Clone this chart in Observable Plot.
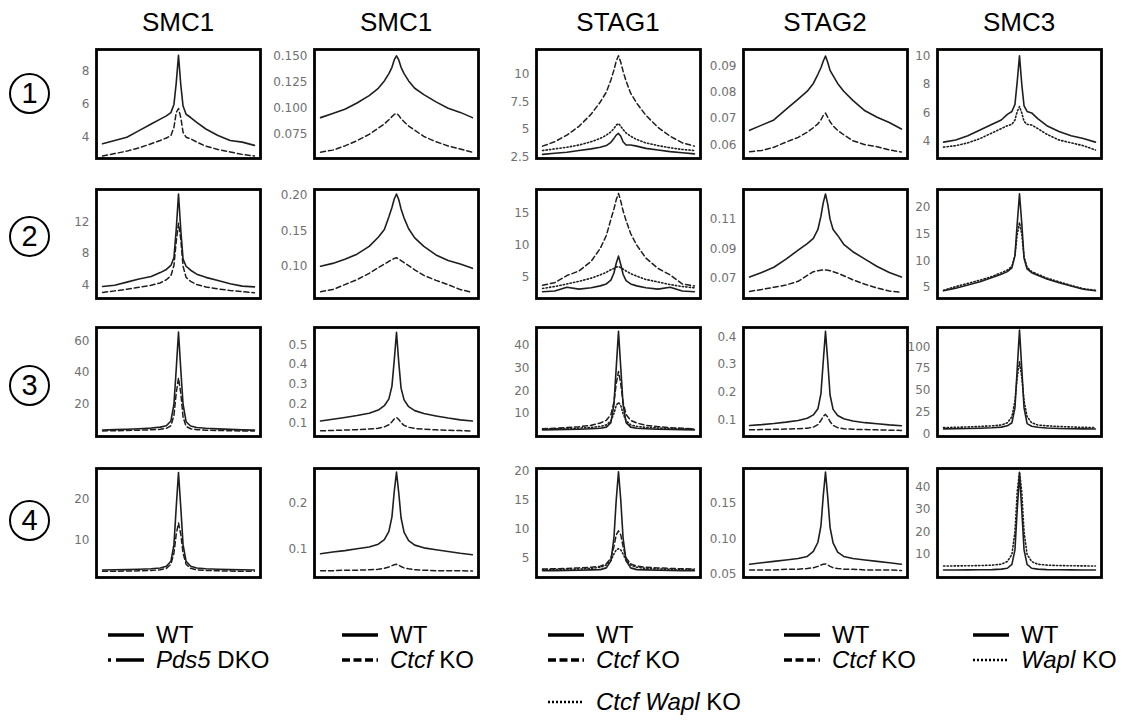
<!DOCTYPE html>
<html><head><meta charset="utf-8">
<script src="https://cdn.jsdelivr.net/npm/d3@7"></script>
<script src="https://cdn.jsdelivr.net/npm/@observablehq/plot@0.6"></script>
<style>
body{margin:0;background:#fff}
#fig{position:relative;width:1130px;height:722px;overflow:hidden;font-family:"Liberation Sans",Arial,Helvetica,sans-serif;color:#000}
.abs{position:absolute}
.title{font-size:26px;text-align:center;width:160px;line-height:30px}
.circ{width:37px;height:37px;border:2px solid #000;border-radius:50%;text-align:center;line-height:37px;font-size:29px;box-sizing:content-box}
.leg{font-size:24px;line-height:28px;white-space:nowrap;display:flex;align-items:center}
.leg svg{margin-right:12px}
</style></head>
<body><div id="fig"></div>
<script>
// ---------- data ----------
const X = [-50,-42,-34,-26,-18,-12,-8,-5,-3,-1.5,0,1.5,3,5,8,12,18,26,34,42,50];
const columns = ["SMC1","SMC1","STAG1","STAG2","SMC3"];
const rowLabels = ["1","2","3","4"];

// Row 1
const p11_wt   = [3.6,3.8,4.0,4.4,4.8,5.1,5.3,5.5,6.0,7.3,9.0,7.2,5.9,5.4,5.2,4.9,4.5,4.1,3.8,3.7,3.5];
const p11_pds5 = [2.85,3.0,3.15,3.35,3.6,3.8,3.95,4.1,4.6,5.5,5.75,5.2,4.3,4.0,3.9,3.7,3.45,3.25,3.1,2.95,2.85];
const p12_wt   = [0.091,0.095,0.099,0.105,0.112,0.119,0.126,0.133,0.139,0.146,0.150,0.146,0.139,0.133,0.126,0.119,0.113,0.106,0.100,0.096,0.091];
const p12_ctcf = [0.058,0.060,0.064,0.069,0.075,0.081,0.085,0.089,0.092,0.094,0.095,0.093,0.090,0.087,0.083,0.079,0.073,0.068,0.064,0.061,0.058];
const p13_wt   = [2.75,2.85,2.95,3.1,3.25,3.4,3.55,3.85,4.2,4.5,4.65,4.4,3.9,3.6,3.6,3.5,3.3,3.15,3.0,2.9,2.8];
const p13_ctcf = [3.5,3.9,4.5,5.3,6.4,7.5,8.4,9.5,10.4,11.2,11.7,11.1,10.3,9.4,8.3,7.4,6.3,5.2,4.4,3.8,3.5];
const p13_cw   = [3.1,3.25,3.4,3.6,3.9,4.2,4.5,4.8,5.1,5.4,5.55,5.3,5.0,4.7,4.4,4.1,3.8,3.55,3.35,3.2,3.1];
const p14_wt   = [0.0655,0.0675,0.0695,0.0735,0.0775,0.0805,0.0835,0.087,0.0895,0.092,0.094,0.0915,0.0885,0.0865,0.0835,0.0805,0.077,0.073,0.0705,0.0685,0.066];
const p14_ctcf = [0.0573,0.0578,0.059,0.061,0.0628,0.0648,0.0665,0.068,0.0695,0.0712,0.0721,0.0705,0.0688,0.0672,0.0655,0.0638,0.0615,0.060,0.0592,0.058,0.0572];
const p15_wt   = [3.95,4.1,4.4,4.8,5.2,5.5,5.9,6.1,6.6,8.2,10.0,8.0,6.5,6.1,6.0,5.6,5.1,4.7,4.4,4.2,3.95];
const p15_wapl = [3.6,3.7,3.9,4.2,4.6,4.9,5.1,5.2,5.5,6.1,6.45,6.0,5.4,5.2,5.15,4.9,4.5,4.1,3.9,3.7,3.4];
// Row 2
const p21_wt   = [3.85,4.0,4.4,4.8,5.1,5.6,6.0,6.5,7.5,11.0,15.5,11.0,7.3,6.4,5.9,5.4,5.0,4.6,4.2,3.9,3.8];
const p21_pds5 = [3.1,3.3,3.5,3.75,4.0,4.3,4.7,5.2,6.5,9.5,11.8,9.8,6.4,5.0,4.5,4.1,3.8,3.55,3.35,3.2,3.05];
const p22_wt   = [0.100,0.104,0.110,0.117,0.128,0.141,0.152,0.170,0.183,0.195,0.202,0.194,0.181,0.168,0.153,0.140,0.128,0.116,0.108,0.103,0.097];
const p22_ctcf = [0.064,0.067,0.074,0.081,0.090,0.098,0.103,0.107,0.109,0.111,0.112,0.110,0.108,0.105,0.101,0.095,0.087,0.080,0.074,0.067,0.063];
const p23_wt   = [2.8,2.9,3.5,3.2,3.4,3.7,4.0,4.6,5.7,7.2,8.3,7.0,5.5,4.5,4.0,3.7,3.4,3.2,3.5,2.9,2.8];
const p23_ctcf = [3.8,4.2,5.3,6.0,7.5,9.5,11.5,14.0,15.6,17.0,18.0,16.8,15.3,13.8,11.8,10.0,8.0,6.4,5.4,4.0,3.7];
const p23_cw   = [3.3,3.6,4.0,4.4,4.9,5.4,5.8,6.2,6.4,6.6,6.7,6.5,6.3,6.0,5.6,5.2,4.7,4.3,3.9,3.6,3.4];
const p24_wt   = [0.071,0.074,0.0775,0.083,0.089,0.0935,0.097,0.103,0.112,0.121,0.127,0.120,0.110,0.103,0.099,0.093,0.088,0.083,0.078,0.074,0.071];
const p24_ctcf = [0.0612,0.0625,0.064,0.0655,0.068,0.072,0.0745,0.0752,0.0755,0.0757,0.0757,0.0755,0.0752,0.0745,0.0735,0.0718,0.069,0.066,0.0635,0.0615,0.0605];
const p25_wt   = [4.4,4.9,5.5,6.1,6.9,7.5,8.0,8.7,11.0,17.0,22.6,17.0,10.5,8.5,7.8,7.3,6.6,5.9,5.3,4.7,4.4];
const p25_wapl = [4.5,5.2,5.8,6.4,7.1,7.8,8.3,9.0,11.0,15.0,17.2,15.0,10.8,8.8,8.0,7.5,6.8,6.1,5.4,4.8,4.5];
// Row 3
const p31_wt   = [3.8,4.0,4.3,4.6,5.0,5.6,6.5,9.5,20,42,65.4,42,20,9.0,6.3,5.4,4.9,4.5,4.2,3.9,3.7];
const p31_pds5 = [3.2,3.3,3.5,3.7,3.9,4.2,4.8,6.5,13,27,36.5,27,12,6.0,4.6,4.0,3.7,3.5,3.3,3.2,3.1];
const p32_wt   = [0.112,0.121,0.130,0.140,0.152,0.168,0.190,0.225,0.290,0.420,0.565,0.410,0.280,0.220,0.185,0.165,0.150,0.138,0.127,0.118,0.112];
const p32_ctcf = [0.062,0.064,0.066,0.068,0.071,0.075,0.082,0.093,0.108,0.122,0.130,0.120,0.103,0.090,0.080,0.074,0.070,0.067,0.065,0.063,0.061];
const p33_wt   = [2.8,2.9,3.0,3.1,3.3,3.5,4.0,6.0,14,30,46,30,14,6.0,4.0,3.5,3.3,3.1,3.0,2.9,2.8];
const p33_ctcf = [3.3,3.5,3.8,4.2,4.8,5.8,7.0,9.5,15,23,28.4,23,15,9.5,7.0,5.8,4.8,4.2,3.8,3.5,3.3];
const p33_cw   = [3.2,3.3,3.4,3.6,3.9,4.3,5.0,6.8,10.0,13.5,14.9,13.5,10.0,6.8,5.0,4.3,3.9,3.6,3.4,3.3,3.2];
const p34_wt   = [0.080,0.083,0.087,0.092,0.098,0.106,0.118,0.140,0.195,0.310,0.420,0.310,0.190,0.138,0.116,0.104,0.096,0.090,0.086,0.082,0.079];
const p34_ctcf = [0.064,0.065,0.066,0.067,0.068,0.070,0.074,0.083,0.098,0.113,0.120,0.110,0.094,0.080,0.072,0.068,0.066,0.065,0.064,0.063,0.062];
const p35_wt   = [6,6.2,6.4,6.8,7.3,8.0,9.5,13,30,75,119,75,30,12,9,7.8,7.0,6.5,6.2,6.0,5.8];
const p35_wapl = [7.5,7.8,8.2,8.8,9.5,10.5,13,20,38,65,83,65,38,20,13,10.5,9.5,8.8,8.2,7.8,7.5];
// Row 4
const p41_wt   = [2.9,2.95,3.0,3.1,3.2,3.4,3.8,5.0,9.0,18,26.3,18,9.0,5.0,3.8,3.4,3.2,3.1,3.0,2.95,2.9];
const p41_pds5 = [2.6,2.6,2.65,2.7,2.8,2.95,3.3,4.3,7.0,11.5,14.2,11.5,7.0,4.3,3.3,2.95,2.8,2.7,2.65,2.6,2.6];
const p42_wt   = [0.089,0.093,0.096,0.100,0.104,0.110,0.120,0.138,0.170,0.225,0.268,0.222,0.168,0.136,0.118,0.108,0.102,0.098,0.094,0.090,0.087];
const p42_ctcf = [0.052,0.052,0.053,0.053,0.054,0.055,0.057,0.060,0.063,0.065,0.066,0.064,0.061,0.058,0.056,0.054,0.053,0.052,0.052,0.052,0.051];
const p43_wt   = [2.8,2.8,2.85,2.9,2.95,3.0,3.3,4.5,8.5,15,19.9,15,8.5,4.5,3.3,3.0,2.95,2.9,2.85,2.8,2.8];
const p43_ctcf = [3.1,3.15,3.2,3.3,3.4,3.6,4.0,5.0,7.0,9.0,9.7,9.0,7.0,5.0,4.0,3.6,3.4,3.3,3.2,3.15,3.1];
const p43_cw   = [3.0,3.0,3.05,3.1,3.2,3.4,3.8,4.6,5.7,6.4,6.6,6.4,5.7,4.6,3.8,3.4,3.2,3.1,3.05,3.0,3.0];
const p44_wt   = [0.064,0.066,0.068,0.070,0.072,0.075,0.082,0.095,0.118,0.160,0.194,0.158,0.116,0.094,0.081,0.075,0.072,0.070,0.068,0.066,0.064];
const p44_ctcf = [0.056,0.056,0.056,0.057,0.057,0.058,0.059,0.061,0.063,0.064,0.0645,0.063,0.061,0.059,0.058,0.057,0.057,0.056,0.056,0.056,0.055];
const p45_wt   = [3.0,3.0,3.05,3.1,3.2,3.4,3.8,5.5,12,30,46,30,12,5.5,3.8,3.4,3.2,3.1,3.05,3.0,3.0];
const p45_wapl = [4.8,4.85,4.9,5.0,5.2,5.6,6.8,10,20,38,47,38,20,10,6.8,5.6,5.2,5.0,4.9,4.85,4.8];

// tick values and labels
const t11 = [4,6,8],                 l11 = ["4","6","8"];
const t12 = [0.075,0.1,0.125,0.15],  l12 = ["0.075","0.100","0.125","0.150"];
const t13 = [2.5,5,7.5,10],          l13 = ["2.5","5","7.5","10"];
const t14 = [0.06,0.07,0.08,0.09],   l14 = ["0.06","0.07","0.08","0.09"];
const t15 = [4,6,8,10],              l15 = ["4","6","8","10"];
const t21 = [4,8,12],                l21 = ["4","8","12"];
const t22 = [0.1,0.15,0.2],          l22 = ["0.10","0.15","0.20"];
const t23 = [5,10,15],               l23 = ["5","10","15"];
const t24 = [0.07,0.09,0.11],        l24 = ["0.07","0.09","0.11"];
const t25 = [5,10,15,20],            l25 = ["5","10","15","20"];
const t31 = [20,40,60],              l31 = ["20","40","60"];
const t32 = [0.1,0.2,0.3,0.4,0.5],   l32 = ["0.1","0.2","0.3","0.4","0.5"];
const t33 = [10,20,30,40],           l33 = ["10","20","30","40"];
const t34 = [0.1,0.2,0.3,0.4],       l34 = ["0.1","0.2","0.3","0.4"];
const t35 = [0,25,50,75,100],        l35 = ["0","25","50","75","100"];
const t41 = [10,20],                 l41 = ["10","20"];
const t42 = [0.1,0.2],               l42 = ["0.1","0.2"];
const t43 = [5,10,15,20],            l43 = ["5","10","15","20"];
const t44 = [0.05,0.1,0.15],         l44 = ["0.05","0.10","0.15"];
const t45 = [10,20,30,40],           l45 = ["10","20","30","40"];

// legend entries per column
const legendCols = [
  [["WT","solid"],["<i>Pds5</i> DKO","dashdot"]],
  [["WT","solid"],["<i>Ctcf</i> KO","dash"]],
  [["WT","solid"],["<i>Ctcf</i> KO","dash"],["<i>Ctcf Wapl</i> KO","dot"]],
  [["WT","solid"],["<i>Ctcf</i> KO","dash"]],
  [["WT","solid"],["<i>Wapl</i> KO","dot"]]
];

// ---------- layout ----------
const colLeft = [96, 314, 536, 743, 937];
const boxW = 164;
const rowTop = [49, 189, 327, 468];
const boxH = 109;
const circleY = [93, 236, 385, 520];
const ML = 60, MR = 3, MT = 3, MB = 3;

const panels = [
  [0,0,[2.7,9.35],t11,l11,[[p11_wt,"solid"],[p11_pds5,"dash"]]],
  [0,1,[0.052,0.156],t12,l12,[[p12_wt,"solid"],[p12_ctcf,"dash"]]],
  [0,2,[2.38,12.26],t13,l13,[[p13_wt,"solid"],[p13_ctcf,"dash"],[p13_cw,"dot"]]],
  [0,3,[0.0547,0.0965],t14,l14,[[p14_wt,"solid"],[p14_ctcf,"dash"]]],
  [0,4,[2.8,10.45],t15,l15,[[p15_wt,"solid"],[p15_wapl,"dot"]]],
  [1,0,[2.34,16.06],t21,l21,[[p21_wt,"solid"],[p21_pds5,"dash"]]],
  [1,1,[0.0544,0.2084],t22,l22,[[p22_wt,"solid"],[p22_ctcf,"dash"]]],
  [1,2,[1.75,18.6],t23,l23,[[p23_wt,"solid"],[p23_ctcf,"dash"],[p23_cw,"dot"]]],
  [1,3,[0.0564,0.130],t24,l24,[[p24_wt,"solid"],[p24_ctcf,"dash"]]],
  [1,4,[2.96,23.4],t25,l25,[[p25_wt,"solid"],[p25_wapl,"dot"]]],
  [2,0,[-0.3,68.3],t31,l31,[[p31_wt,"solid"],[p31_pds5,"dash"]]],
  [2,1,[0.033,0.589],t32,l32,[[p32_wt,"solid"],[p32_ctcf,"dash"]]],
  [2,2,[-0.1,47.7],t33,l33,[[p33_wt,"solid"],[p33_ctcf,"dash"],[p33_cw,"dot"]]],
  [2,3,[0.040,0.434],t34,l34,[[p34_wt,"solid"],[p34_ctcf,"dash"]]],
  [2,4,[-2.7,122],t35,l35,[[p35_wt,"solid"],[p35_wapl,"dot"]]],
  [3,0,[1.1,27.3],t41,l41,[[p41_wt,"solid"],[p41_pds5,"dash"]]],
  [3,1,[0.037,0.276],t42,l42,[[p42_wt,"solid"],[p42_ctcf,"dash"]]],
  [3,2,[1.64,20.46],t43,l43,[[p43_wt,"solid"],[p43_ctcf,"dash"],[p43_cw,"dot"]]],
  [3,3,[0.0453,0.199],t44,l44,[[p44_wt,"solid"],[p44_ctcf,"dash"]]],
  [3,4,[-0.34,48.4],t45,l45,[[p45_wt,"solid"],[p45_wapl,"dot"]]]
];

const dashOf = {solid: null, dash: "5,3", dot: "1.3,2.2"};
const widthOf = {solid: 1.6, dash: 1.5, dot: 1.6};

const fig = document.getElementById("fig");
function place(el, x, y) { el.style.left = x + "px"; el.style.top = y + "px"; el.classList.add("abs"); fig.appendChild(el); return el; }

// column titles
columns.forEach((c, i) => {
  const d = document.createElement("div");
  d.className = "title"; d.textContent = c;
  place(d, colLeft[i] + boxW / 2 - 80, 7);
});
// row labels
rowLabels.forEach((r, i) => {
  const d = document.createElement("div");
  d.className = "circ"; d.textContent = r;
  place(d, 9, circleY[i] - 20.5);
});

// panels
for (const [ri, ci, domain, ticks, labels, series] of panels) {
  const lab = new Map(ticks.map((t, k) => [t, labels[k]]));
  const marks = [];
  for (const [vals, style] of series) {
    const data = X.map((x, k) => ({x, y: vals[k]}));
    marks.push(Plot.line(data, {x: "x", y: "y", stroke: "#1e1e1e", strokeWidth: widthOf[style],
      strokeDasharray: dashOf[style] || undefined, strokeLinejoin: "round"}));
  }
  marks.push(Plot.frame({stroke: "#000", strokeWidth: 2.8}));
  const svg = Plot.plot({
    width: boxW + ML + MR, height: boxH + MT + MB,
    marginLeft: ML, marginRight: MR, marginTop: MT, marginBottom: MB,
    x: {domain: [-54, 54], axis: null},
    y: {domain, ticks, tickFormat: d => lab.get(d), tickSize: 0, tickPadding: 7, label: null},
    style: {fontFamily: "'DejaVu Sans', sans-serif", fontSize: "12px", color: "#707070", background: "transparent", overflow: "visible"},
    marks
  });
  const w = document.createElement("div");
  w.style.width = (boxW + ML + MR) + "px";
  w.appendChild(svg);
  place(w, colLeft[ci] - ML, rowTop[ri] - MT);
}

// legends
const legX = [108, 342, 548, 784, 973];
const legY = [621, 646, 688];
function swatch(style) {
  const s = d3.create("svg").attr("width", 36).attr("height", 10);
  const l = s.append("line").attr("x1", 0).attr("x2", 36).attr("y1", 5).attr("y2", 5).attr("stroke", "#000");
  if (style === "solid") l.attr("stroke-width", 3.5);
  if (style === "dash") l.attr("stroke-width", 3.5).attr("stroke-dasharray", "8,3.5");
  if (style === "dot") l.attr("stroke-width", 2.5).attr("stroke-dasharray", "2,2");
  if (style === "dashdot") l.attr("stroke-width", 3.5).attr("stroke-dasharray", "3,5,28,40");
  return s.node();
}
legendCols.forEach((entries, ci) => {
  entries.forEach(([txt, style], k) => {
    const d = document.createElement("div");
    d.className = "leg";
    d.appendChild(swatch(style));
    const sp = document.createElement("span"); sp.innerHTML = txt; d.appendChild(sp);
    place(d, legX[ci], legY[k]);
  });
});
</script></body></html>
